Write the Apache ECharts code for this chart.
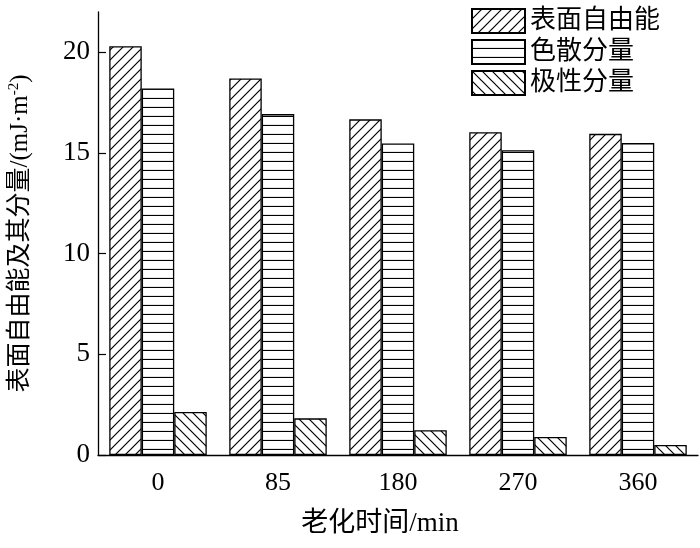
<!DOCTYPE html>
<html>
<head>
<meta charset="utf-8">
<script src="https://cdn.jsdelivr.net/npm/echarts@6/dist/echarts.min.js"></script>
<style>
  html, body { margin: 0; padding: 0; background: #fff; }
  #chart { width: 700px; height: 548px; }
</style>
</head>
<body>
<div id="chart"></div>
<script>
  // data
  const times = ['0', '85', '180', '270', '360'];
  const seriesNames = ['表面自由能', '色散分量', '极性分量'];
  const totalEnergy = [20.3, 18.7, 16.67, 16.03, 15.95];
  const dispersive = [18.2, 16.93, 15.47, 15.14, 15.49];
  const polar = [2.14, 1.82, 1.23, 0.9, 0.5];
  const yTicks = [0, 5, 10, 15, 20];

  const serif = '"Liberation Serif", "Times New Roman", "Noto Sans CJK SC", serif';

  // hatch patterns drawn on small canvases
  function makeHatch(kind) {
    const c = document.createElement('canvas');
    const s = kind === 'h' ? 9 : 10;
    c.width = kind === 'h' ? 4 : s;
    c.height = s;
    const ctx = c.getContext('2d');
    ctx.fillStyle = '#fff';
    ctx.fillRect(0, 0, c.width, c.height);
    ctx.strokeStyle = '#000';
    ctx.lineWidth = 1.2;
    ctx.beginPath();
    if (kind === 'h') {
      ctx.moveTo(0, s - 0.5); ctx.lineTo(c.width, s - 0.5);
    } else if (kind === '/') {
      ctx.moveTo(-1, s + 1); ctx.lineTo(s + 1, -1);
      ctx.moveTo(-2, 2); ctx.lineTo(2, -2);
      ctx.moveTo(s - 2, s + 2); ctx.lineTo(s + 2, s - 2);
    } else {
      ctx.moveTo(-1, -1); ctx.lineTo(s + 1, s + 1);
      ctx.moveTo(-2, s - 2); ctx.lineTo(2, s + 2);
      ctx.moveTo(s - 2, -2); ctx.lineTo(s + 2, 2);
    }
    ctx.stroke();
    return { image: c, repeat: 'repeat' };
  }

  const patterns = [makeHatch('/'), makeHatch('h'), makeHatch('\\')];
  const values = [totalEnergy, dispersive, polar];

  const chart = echarts.init(document.getElementById('chart'));

  const option = {
    animation: false,
    backgroundColor: '#fff',
    legend: {
      orient: 'vertical',
      left: 466,
      top: 3,
      icon: 'rect',
      itemWidth: 53,
      itemHeight: 24,
      itemGap: 5,
      data: seriesNames,
      textStyle: { fontFamily: serif, fontSize: 26, lineHeight: 24, color: '#000' }
    },
    grid: { left: 98, right: 2, top: 12, bottom: 93, outerBoundsMode: 'none' },
    xAxis: {
      type: 'category',
      data: times,
      name: '老化时间/min',
      nameLocation: 'middle',
      nameGap: 55,
      nameTextStyle: { fontFamily: serif, fontSize: 27, color: '#000', padding: [0, 36, 0, 0] },
      axisLine: { lineStyle: { color: '#000', width: 1.3 } },
      axisTick: { inside: true, alignWithLabel: true, length: 6, lineStyle: { color: '#000', width: 1.2 } },
      axisLabel: { fontFamily: serif, fontSize: 26, color: '#000', margin: 15 }
    },
    yAxis: {
      type: 'value',
      min: 0,
      max: 22,
      interval: 5,
      name: '表面自由能及其分量/(mJ·m{sup|-2})',
      nameLocation: 'middle',
      nameGap: 64,
      nameTextStyle: {
        fontFamily: serif, fontSize: 25, color: '#000',
        rich: { sup: { fontFamily: serif, fontSize: 15, color: '#000', verticalAlign: 'top', padding: [0, 0, 12, 0] } }
      },
      splitLine: { show: false },
      axisLine: { show: true, lineStyle: { color: '#000', width: 1.3 } },
      axisTick: { show: true, inside: true, length: 8, customValues: yTicks, lineStyle: { color: '#000', width: 1.2 } },
      axisLabel: { fontFamily: serif, fontSize: 27, color: '#000', margin: 8, customValues: yTicks }
    },
    series: seriesNames.map(function (name, i) {
      return {
        name: name,
        type: 'bar',
        data: values[i],
        barWidth: 32.5,
        barGap: '0%',
        itemStyle: { color: patterns[i], borderColor: '#000', borderWidth: 1.3 }
      };
    })
  };

  chart.setOption(option);
</script>
</body>
</html>
